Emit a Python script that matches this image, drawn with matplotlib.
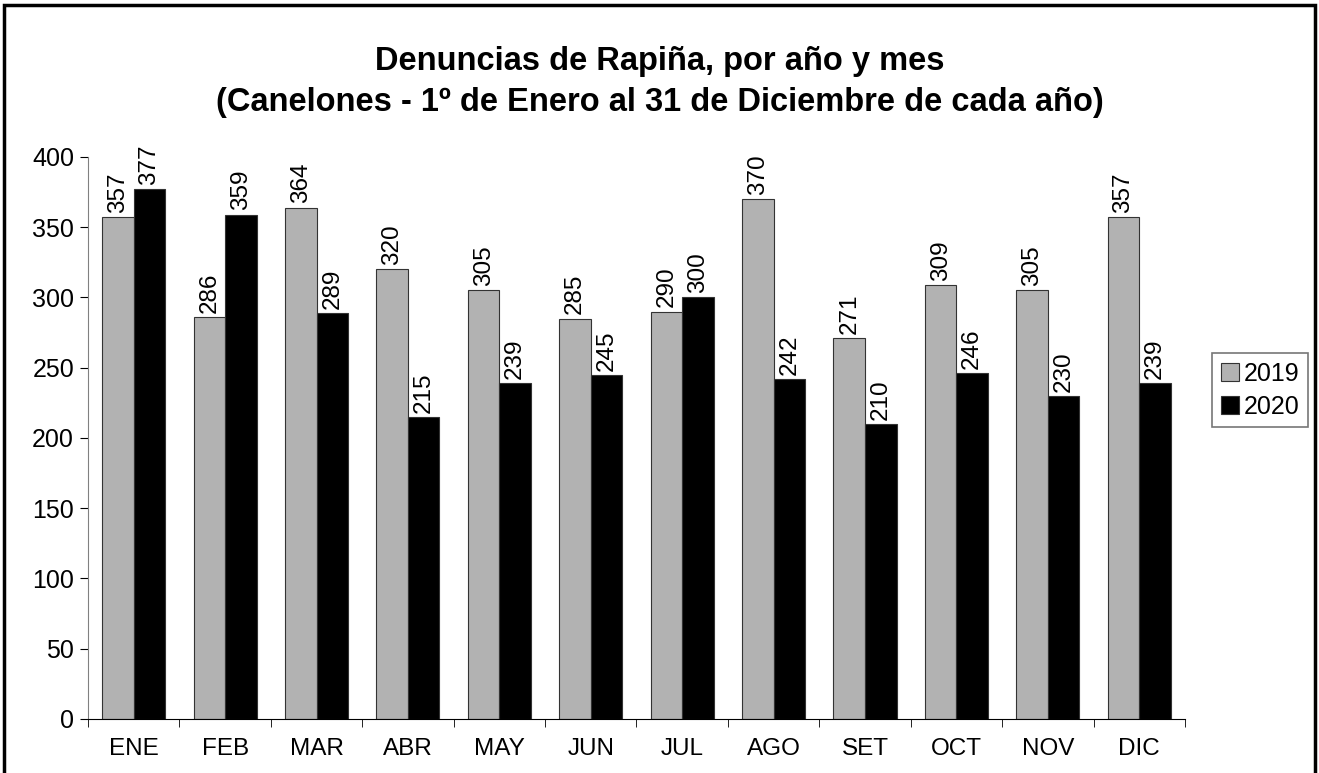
import numpy as np
import matplotlib
matplotlib.use("Agg")
from matplotlib import pyplot as plt
from matplotlib.patches import Rectangle

plt.rcParams['font.family'] = ['Liberation Sans', 'DejaVu Sans']

meses = ["ENE", "FEB", "MAR", "ABR", "MAY", "JUN", "JUL", "AGO", "SET", "OCT", "NOV", "DIC"]
datos_2019 = [357, 286, 364, 320, 305, 285, 290, 370, 271, 309, 305, 357]
datos_2020 = [377, 359, 289, 215, 239, 245, 300, 242, 210, 246, 230, 239]

fig = plt.figure(figsize=(13.19, 7.73), dpi=100)
ax = fig.add_axes([0.0667, 0.0699, 0.8317, 0.727])

x = np.arange(len(meses))
w = 0.345
b1 = ax.bar(x - w / 2, datos_2019, w, color='#b2b2b2', edgecolor='#333333', linewidth=0.8, label='2019')
b2 = ax.bar(x + w / 2, datos_2020, w, color='black', edgecolor='#333333', linewidth=0.8, label='2020')

for bars in (b1, b2):
    for r in bars:
        ax.annotate(str(int(r.get_height())), (r.get_x() + r.get_width() / 2, r.get_height()),
                    xytext=(0, 3), textcoords='offset points', ha='center', va='bottom',
                    rotation=90, fontsize=17.5)

ax.set_xlim(-0.5, len(meses) - 0.5)
ax.set_ylim(0, 400)
ax.set_yticks(np.arange(0, 401, 50))
ax.set_xticks(x)
ax.set_xticklabels(meses, fontsize=17.5)
ax.set_xticks(np.arange(-0.5, len(meses), 1), minor=True)
ax.tick_params(axis='x', which='major', length=0, pad=14)
ax.tick_params(axis='x', which='minor', length=6, direction='out', color='black')
ax.tick_params(axis='y', labelsize=18, length=6, color='black', pad=4)
for s in ('top', 'right'):
    ax.spines[s].set_visible(False)
ax.spines['left'].set_color('#808080')
ax.spines['bottom'].set_color('black')

leg = ax.legend(loc='center left', bbox_to_anchor=(1.025, 0.585), fontsize=18, frameon=True,
                fancybox=False, edgecolor='#555555', handlelength=0.7, handleheight=0.7,
                handletextpad=0.2, borderpad=0.35, labelspacing=0.35, borderaxespad=0)
leg.get_frame().set_linewidth(1.2)

fig.text(0.5, 0.894, "Denuncias de Rapiña, por año y mes\n(Canelones - 1º de Enero al 31 de Diciembre de cada año)",
         ha='center', va='center', fontsize=23.5, fontweight='bold', linespacing=1.4)

fig.patches.append(Rectangle((0.003, -0.01), 0.994, 1.004, transform=fig.transFigure,
                             fill=False, edgecolor='black', linewidth=2.5))

fig.savefig("out.png", dpi=100)
